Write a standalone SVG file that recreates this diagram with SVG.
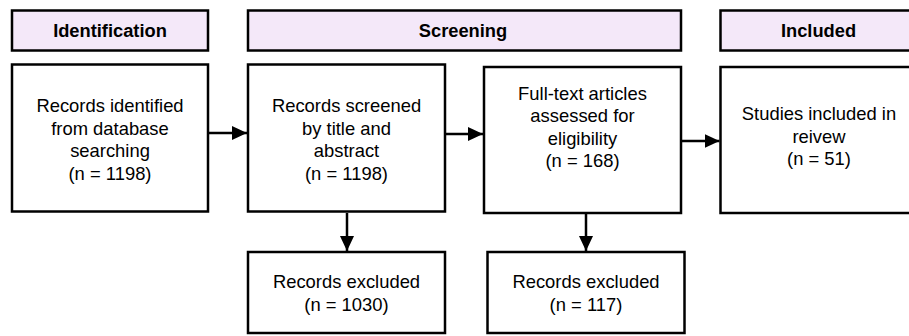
<svg xmlns="http://www.w3.org/2000/svg" width="909" height="336" viewBox="0 0 909 336">
<style>
.hdr{fill:#f4e8f9;stroke:#000;stroke-width:2.5}
.box{fill:#fff;stroke:#000;stroke-width:2.5}
.ht{font-family:"Liberation Sans",Arial,sans-serif;font-weight:bold;font-size:18.3px;text-anchor:middle;fill:#000}
.t{font-family:"Liberation Sans",Arial,sans-serif;font-size:18.4px;text-anchor:middle;fill:#000}
.c{stroke:#000;stroke-width:2.5;fill:none}
</style>
<defs>
<marker id="ah" markerUnits="userSpaceOnUse" markerWidth="15" markerHeight="14" refX="15" refY="7" orient="auto">
<path d="M0,0 L15,7 L0,14 Z" fill="#000"/>
</marker>
</defs>
<rect width="909" height="336" fill="#fff"/>
<g id="hdr-identification"><rect class="hdr" x="12" y="10.5" width="196" height="40"/><text class="ht" x="110" y="36.5">Identification</text></g>
<g id="hdr-screening"><rect class="hdr" x="248" y="10.5" width="433" height="40"/><text class="ht" x="463" y="36.5">Screening</text></g>
<g id="hdr-included"><rect class="hdr" x="720.5" y="10.5" width="200" height="40"/><text class="ht" x="818.5" y="36.5">Included</text></g>
<g id="n-identified"><rect class="box" x="12" y="64.5" width="196" height="147"/>
<text class="t" x="110" y="112">Records identified</text><text class="t" x="110" y="134.5">from database</text><text class="t" x="110" y="157">searching</text><text class="t" x="110" y="179.5">(n = 1198)</text></g>
<g id="n-screened"><rect class="box" x="248" y="64.5" width="197" height="147"/>
<text class="t" x="346.5" y="112">Records screened</text><text class="t" x="346.5" y="134.5">by title and</text><text class="t" x="346.5" y="157">abstract</text><text class="t" x="346.5" y="179.5">(n = 1198)</text></g>
<g id="n-fulltext"><rect class="box" x="484" y="67" width="197" height="146"/>
<text class="t" x="582.5" y="99.5">Full-text articles</text><text class="t" x="582.5" y="122">assessed for</text><text class="t" x="582.5" y="144.5">eligibility</text><text class="t" x="582.5" y="167">(n = 168)</text></g>
<g id="n-included"><rect class="box" x="720.5" y="67" width="200" height="146"/>
<text class="t" x="819" y="120">Studies included in</text><text class="t" x="819" y="142.5">reivew</text><text class="t" x="819" y="165">(n = 51)</text></g>
<g id="n-excluded1"><rect class="box" x="248" y="252" width="197" height="81"/>
<text class="t" x="346.5" y="288">Records excluded</text><text class="t" x="346.5" y="310.5">(n = 1030)</text></g>
<g id="n-excluded2"><rect class="box" x="487.5" y="252" width="197" height="81"/>
<text class="t" x="586" y="288">Records excluded</text><text class="t" x="586" y="310.5">(n = 117)</text></g>
<g id="connectors">
<line class="c" x1="209" y1="133" x2="247" y2="133" marker-end="url(#ah)"/>
<line class="c" x1="446" y1="134" x2="483" y2="134" marker-end="url(#ah)"/>
<line class="c" x1="682" y1="141" x2="719.5" y2="141" marker-end="url(#ah)"/>
<line class="c" x1="347" y1="213" x2="347" y2="251" marker-end="url(#ah)"/>
<line class="c" x1="586" y1="214" x2="586" y2="251" marker-end="url(#ah)"/>
</g>
</svg>
